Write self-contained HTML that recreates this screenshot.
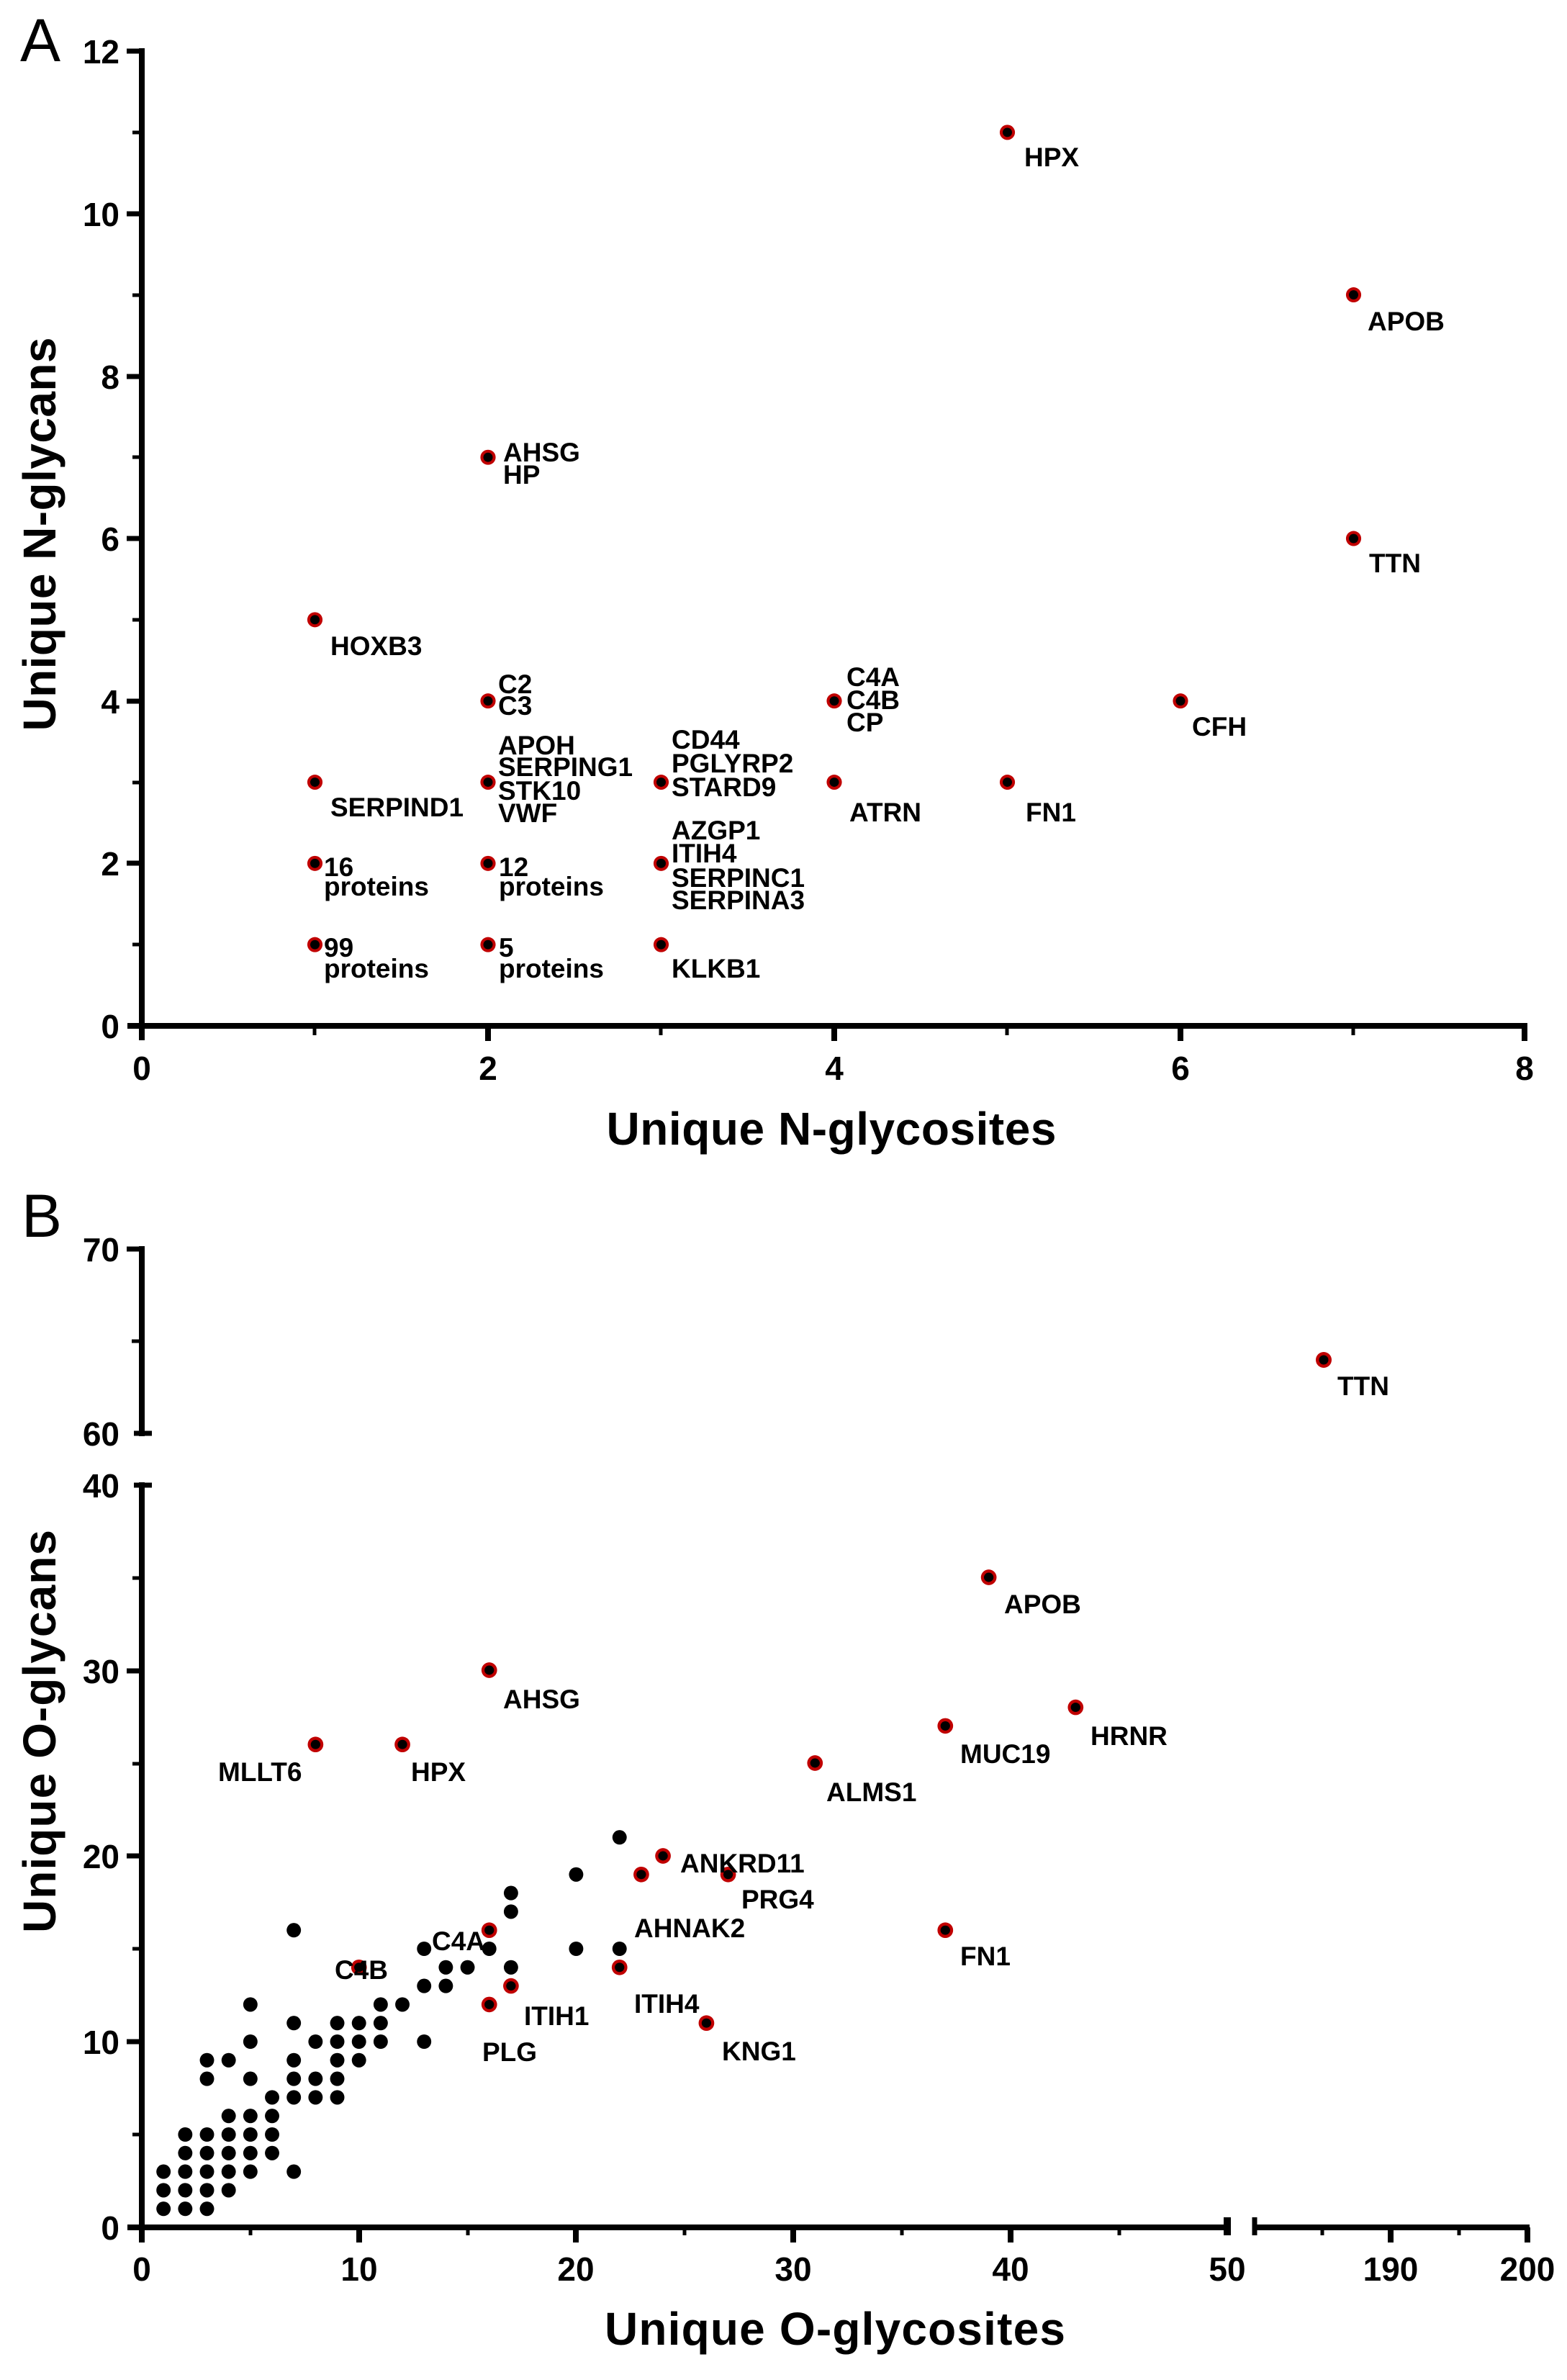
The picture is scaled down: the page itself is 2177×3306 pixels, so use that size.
<!DOCTYPE html>
<html><head><meta charset="utf-8"><style>
html,body{margin:0;padding:0;background:#fff;}
svg{display:block;}
text{font-family:"Liberation Sans",Arial,sans-serif;font-weight:bold;fill:#000;}
.t{font-size:46px;}
.l{font-size:37px;}
.ti{font-size:64px;}
</style></head><body>
<svg width="2177" height="3306" viewBox="0 0 2177 3306" xmlns="http://www.w3.org/2000/svg">
<!-- ===== Panel A ===== -->
<text x="28" y="85" style="font-size:84px;font-weight:normal">A</text>
<g stroke="#000" fill="none">
  <line x1="197" y1="67" x2="197" y2="1445" stroke-width="8"/>
  <line x1="177" y1="1425" x2="2122" y2="1425" stroke-width="8"/>
  <!-- y major -->
  <g stroke-width="7">
    <line x1="176" y1="71" x2="197" y2="71"/><line x1="176" y1="297" x2="197" y2="297"/>
    <line x1="176" y1="523" x2="197" y2="523"/><line x1="176" y1="748" x2="197" y2="748"/>
    <line x1="176" y1="974" x2="197" y2="974"/><line x1="176" y1="1199" x2="197" y2="1199"/>
  </g>
  <g stroke-width="5">
    <line x1="184" y1="184" x2="197" y2="184"/><line x1="184" y1="410" x2="197" y2="410"/>
    <line x1="184" y1="635" x2="197" y2="635"/><line x1="184" y1="861" x2="197" y2="861"/>
    <line x1="184" y1="1087" x2="197" y2="1087"/><line x1="184" y1="1312" x2="197" y2="1312"/>
  </g>
  <!-- x ticks -->
  <g stroke-width="8">
    <line x1="678" y1="1425" x2="678" y2="1446"/><line x1="1159" y1="1425" x2="1159" y2="1446"/>
    <line x1="1640" y1="1425" x2="1640" y2="1446"/><line x1="2118" y1="1425" x2="2118" y2="1446"/>
  </g>
  <g stroke-width="5">
    <line x1="437" y1="1425" x2="437" y2="1438"/><line x1="918" y1="1425" x2="918" y2="1438"/>
    <line x1="1399" y1="1425" x2="1399" y2="1438"/><line x1="1880" y1="1425" x2="1880" y2="1438"/>
  </g>
</g>
<g class="t" text-anchor="end">
  <text x="166" y="88">12</text><text x="166" y="314">10</text><text x="166" y="540">8</text>
  <text x="166" y="765">6</text><text x="166" y="991">4</text><text x="166" y="1216">2</text>
  <text x="166" y="1442">0</text>
</g>
<g class="t" text-anchor="middle">
  <text x="197" y="1500">0</text><text x="678" y="1500">2</text><text x="1159" y="1500">4</text>
  <text x="1640" y="1500">6</text><text x="2118" y="1500">8</text>
</g>
<text class="ti" x="1155" y="1590" text-anchor="middle" textLength="625">Unique N-glycosites</text>
<text class="ti" transform="translate(77,742) rotate(-90)" text-anchor="middle" textLength="547">Unique N-glycans</text>
<!-- A points -->
<g transform="translate(197,1425) scale(240.5,-112.83)">
  <g fill="#c00000">
    <ellipse cx="5" cy="11" rx="0.044" ry="0.093"/><ellipse cx="7" cy="9" rx="0.044" ry="0.093"/>
    <ellipse cx="2" cy="7" rx="0.044" ry="0.093"/><ellipse cx="7" cy="6" rx="0.044" ry="0.093"/>
    <ellipse cx="1" cy="5" rx="0.044" ry="0.093"/><ellipse cx="2" cy="4" rx="0.044" ry="0.093"/>
    <ellipse cx="4" cy="4" rx="0.044" ry="0.093"/><ellipse cx="6" cy="4" rx="0.044" ry="0.093"/>
    <ellipse cx="1" cy="3" rx="0.044" ry="0.093"/><ellipse cx="2" cy="3" rx="0.044" ry="0.093"/>
    <ellipse cx="3" cy="3" rx="0.044" ry="0.093"/><ellipse cx="4" cy="3" rx="0.044" ry="0.093"/>
    <ellipse cx="5" cy="3" rx="0.044" ry="0.093"/><ellipse cx="1" cy="2" rx="0.044" ry="0.093"/>
    <ellipse cx="2" cy="2" rx="0.044" ry="0.093"/><ellipse cx="3" cy="2" rx="0.044" ry="0.093"/>
    <ellipse cx="1" cy="1" rx="0.044" ry="0.093"/><ellipse cx="2" cy="1" rx="0.044" ry="0.093"/>
    <ellipse cx="3" cy="1" rx="0.044" ry="0.093"/>
  </g>
  <g fill="#000">
    <ellipse cx="5" cy="11" rx="0.027" ry="0.057"/><ellipse cx="7" cy="9" rx="0.027" ry="0.057"/>
    <ellipse cx="2" cy="7" rx="0.027" ry="0.057"/><ellipse cx="7" cy="6" rx="0.027" ry="0.057"/>
    <ellipse cx="1" cy="5" rx="0.027" ry="0.057"/><ellipse cx="2" cy="4" rx="0.027" ry="0.057"/>
    <ellipse cx="4" cy="4" rx="0.027" ry="0.057"/><ellipse cx="6" cy="4" rx="0.027" ry="0.057"/>
    <ellipse cx="1" cy="3" rx="0.027" ry="0.057"/><ellipse cx="2" cy="3" rx="0.027" ry="0.057"/>
    <ellipse cx="3" cy="3" rx="0.027" ry="0.057"/><ellipse cx="4" cy="3" rx="0.027" ry="0.057"/>
    <ellipse cx="5" cy="3" rx="0.027" ry="0.057"/><ellipse cx="1" cy="2" rx="0.027" ry="0.057"/>
    <ellipse cx="2" cy="2" rx="0.027" ry="0.057"/><ellipse cx="3" cy="2" rx="0.027" ry="0.057"/>
    <ellipse cx="1" cy="1" rx="0.027" ry="0.057"/><ellipse cx="2" cy="1" rx="0.027" ry="0.057"/>
    <ellipse cx="3" cy="1" rx="0.027" ry="0.057"/>
  </g>
</g>
<g class="l">
  <text x="1423" y="231">HPX</text>
  <text x="1900" y="459">APOB</text>
  <text x="699" y="641">AHSG</text><text x="699" y="672">HP</text>
  <text x="1902" y="795">TTN</text>
  <text x="459" y="910">HOXB3</text>
  <text x="692" y="963">C2</text><text x="692" y="993">C3</text>
  <text x="1176" y="953">C4A</text><text x="1176" y="985">C4B</text><text x="1176" y="1016">CP</text>
  <text x="1656" y="1022">CFH</text>
  <text x="692" y="1048">APOH</text><text x="692" y="1078">SERPING1</text><text x="692" y="1111">STK10</text><text x="692" y="1142">VWF</text>
  <text x="459" y="1134">SERPIND1</text>
  <text x="933" y="1040">CD44</text><text x="933" y="1073">PGLYRP2</text><text x="933" y="1106">STARD9</text>
  <text x="1180" y="1141">ATRN</text>
  <text x="1425" y="1141">FN1</text>
  <text x="933" y="1166">AZGP1</text><text x="933" y="1198">ITIH4</text><text x="933" y="1232">SERPINC1</text><text x="933" y="1263">SERPINA3</text>
  <text x="450" y="1217">16</text><text x="450" y="1244">proteins</text>
  <text x="693" y="1217">12</text><text x="693" y="1244">proteins</text>
  <text x="450" y="1329">99</text><text x="450" y="1358">proteins</text>
  <text x="693" y="1329">5</text><text x="693" y="1358">proteins</text>
  <text x="933" y="1358">KLKB1</text>
</g>

<!-- ===== Panel B ===== -->
<text x="30" y="1718" style="font-size:84px;font-weight:normal">B</text>
<g stroke="#000" fill="none">
  <line x1="197" y1="1731" x2="197" y2="1995" stroke-width="8"/>
  <line x1="176" y1="1735" x2="197" y2="1735" stroke-width="7"/>
  <line x1="186" y1="1991" x2="211" y2="1991" stroke-width="7"/>
  <line x1="183" y1="1863" x2="197" y2="1863" stroke-width="5"/>
  <line x1="197" y1="2059" x2="197" y2="3115" stroke-width="8"/>
  <line x1="186" y1="2063" x2="211" y2="2063" stroke-width="7"/>
  <line x1="177" y1="3094" x2="1706" y2="3094" stroke-width="8"/>
  <line x1="1743" y1="3094" x2="2125" y2="3094" stroke-width="8"/>
  <g stroke-width="7">
    <line x1="176" y1="2321" x2="197" y2="2321"/><line x1="176" y1="2578" x2="197" y2="2578"/>
    <line x1="176" y1="2836" x2="197" y2="2836"/>
  </g>
  <g stroke-width="5">
    <line x1="184" y1="2192" x2="197" y2="2192"/><line x1="184" y1="2450" x2="197" y2="2450"/>
    <line x1="184" y1="2707" x2="197" y2="2707"/><line x1="184" y1="2965" x2="197" y2="2965"/>
  </g>
  <g stroke-width="8">
    <line x1="499" y1="3094" x2="499" y2="3115"/><line x1="800" y1="3094" x2="800" y2="3115"/>
    <line x1="1102" y1="3094" x2="1102" y2="3115"/><line x1="1404" y1="3094" x2="1404" y2="3115"/>
    <line x1="1932" y1="3094" x2="1932" y2="3115"/><line x1="2122" y1="3094" x2="2122" y2="3115"/>
  </g>
  <line x1="1705" y1="3080" x2="1705" y2="3105" stroke-width="10"/>
  <line x1="1743" y1="3080" x2="1743" y2="3105" stroke-width="7"/>
  <g stroke-width="5">
    <line x1="348" y1="3094" x2="348" y2="3105"/><line x1="650" y1="3094" x2="650" y2="3105"/>
    <line x1="951" y1="3094" x2="951" y2="3105"/><line x1="1253" y1="3094" x2="1253" y2="3105"/>
    <line x1="1555" y1="3094" x2="1555" y2="3105"/><line x1="1837" y1="3094" x2="1837" y2="3105"/>
    <line x1="2027" y1="3094" x2="2027" y2="3105"/>
  </g>
</g>
<g class="t" text-anchor="end">
  <text x="166" y="1752">70</text><text x="166" y="2008">60</text><text x="166" y="2080">40</text>
  <text x="166" y="2338">30</text><text x="166" y="2595">20</text><text x="166" y="2853">10</text>
  <text x="166" y="3111">0</text>
</g>
<g class="t" text-anchor="middle">
  <text x="197" y="3168">0</text><text x="499" y="3168">10</text><text x="800" y="3168">20</text>
  <text x="1102" y="3168">30</text><text x="1404" y="3168">40</text><text x="1705" y="3168">50</text>
  <text x="1932" y="3168">190</text><text x="2122" y="3168">200</text>
</g>
<text class="ti" x="1160" y="3257" text-anchor="middle" textLength="640">Unique O-glycosites</text>
<text class="ti" transform="translate(77,2405) rotate(-90)" text-anchor="middle" textLength="560">Unique O-glycans</text>
<!-- B points -->
<g transform="translate(197,3094) scale(30.17,-25.8)">
  <g fill="#000">
    <ellipse cx="1" cy="1" rx="0.33" ry="0.39"/><ellipse cx="2" cy="1" rx="0.33" ry="0.39"/><ellipse cx="3" cy="1" rx="0.33" ry="0.39"/>
    <ellipse cx="1" cy="2" rx="0.33" ry="0.39"/><ellipse cx="2" cy="2" rx="0.33" ry="0.39"/><ellipse cx="3" cy="2" rx="0.33" ry="0.39"/><ellipse cx="4" cy="2" rx="0.33" ry="0.39"/>
    <ellipse cx="1" cy="3" rx="0.33" ry="0.39"/><ellipse cx="2" cy="3" rx="0.33" ry="0.39"/><ellipse cx="3" cy="3" rx="0.33" ry="0.39"/><ellipse cx="4" cy="3" rx="0.33" ry="0.39"/><ellipse cx="5" cy="3" rx="0.33" ry="0.39"/><ellipse cx="7" cy="3" rx="0.33" ry="0.39"/>
    <ellipse cx="2" cy="4" rx="0.33" ry="0.39"/><ellipse cx="3" cy="4" rx="0.33" ry="0.39"/><ellipse cx="4" cy="4" rx="0.33" ry="0.39"/><ellipse cx="5" cy="4" rx="0.33" ry="0.39"/><ellipse cx="6" cy="4" rx="0.33" ry="0.39"/>
    <ellipse cx="2" cy="5" rx="0.33" ry="0.39"/><ellipse cx="3" cy="5" rx="0.33" ry="0.39"/><ellipse cx="4" cy="5" rx="0.33" ry="0.39"/><ellipse cx="5" cy="5" rx="0.33" ry="0.39"/><ellipse cx="6" cy="5" rx="0.33" ry="0.39"/>
    <ellipse cx="4" cy="6" rx="0.33" ry="0.39"/><ellipse cx="5" cy="6" rx="0.33" ry="0.39"/><ellipse cx="6" cy="6" rx="0.33" ry="0.39"/>
    <ellipse cx="6" cy="7" rx="0.33" ry="0.39"/><ellipse cx="7" cy="7" rx="0.33" ry="0.39"/><ellipse cx="8" cy="7" rx="0.33" ry="0.39"/><ellipse cx="9" cy="7" rx="0.33" ry="0.39"/>
    <ellipse cx="3" cy="8" rx="0.33" ry="0.39"/><ellipse cx="5" cy="8" rx="0.33" ry="0.39"/><ellipse cx="7" cy="8" rx="0.33" ry="0.39"/><ellipse cx="8" cy="8" rx="0.33" ry="0.39"/><ellipse cx="9" cy="8" rx="0.33" ry="0.39"/>
    <ellipse cx="3" cy="9" rx="0.33" ry="0.39"/><ellipse cx="4" cy="9" rx="0.33" ry="0.39"/><ellipse cx="7" cy="9" rx="0.33" ry="0.39"/><ellipse cx="9" cy="9" rx="0.33" ry="0.39"/><ellipse cx="10" cy="9" rx="0.33" ry="0.39"/>
    <ellipse cx="5" cy="10" rx="0.33" ry="0.39"/><ellipse cx="8" cy="10" rx="0.33" ry="0.39"/><ellipse cx="9" cy="10" rx="0.33" ry="0.39"/><ellipse cx="10" cy="10" rx="0.33" ry="0.39"/><ellipse cx="11" cy="10" rx="0.33" ry="0.39"/><ellipse cx="13" cy="10" rx="0.33" ry="0.39"/>
    <ellipse cx="7" cy="11" rx="0.33" ry="0.39"/><ellipse cx="9" cy="11" rx="0.33" ry="0.39"/><ellipse cx="10" cy="11" rx="0.33" ry="0.39"/><ellipse cx="11" cy="11" rx="0.33" ry="0.39"/>
    <ellipse cx="5" cy="12" rx="0.33" ry="0.39"/><ellipse cx="11" cy="12" rx="0.33" ry="0.39"/><ellipse cx="12" cy="12" rx="0.33" ry="0.39"/>
    <ellipse cx="13" cy="13" rx="0.33" ry="0.39"/><ellipse cx="14" cy="13" rx="0.33" ry="0.39"/>
    <ellipse cx="14" cy="14" rx="0.33" ry="0.39"/><ellipse cx="15" cy="14" rx="0.33" ry="0.39"/><ellipse cx="17" cy="14" rx="0.33" ry="0.39"/>
    <ellipse cx="13" cy="15" rx="0.33" ry="0.39"/><ellipse cx="16" cy="15" rx="0.33" ry="0.39"/><ellipse cx="20" cy="15" rx="0.33" ry="0.39"/><ellipse cx="22" cy="15" rx="0.33" ry="0.39"/>
    <ellipse cx="7" cy="16" rx="0.33" ry="0.39"/><ellipse cx="17" cy="17" rx="0.33" ry="0.39"/><ellipse cx="17" cy="18" rx="0.33" ry="0.39"/>
    <ellipse cx="20" cy="19" rx="0.33" ry="0.39"/><ellipse cx="22" cy="21" rx="0.33" ry="0.39"/>
  </g>
  <g fill="#c00000">
    <ellipse cx="8" cy="26" rx="0.36" ry="0.42"/><ellipse cx="12" cy="26" rx="0.36" ry="0.42"/><ellipse cx="16" cy="30" rx="0.36" ry="0.42"/>
    <ellipse cx="39" cy="35" rx="0.36" ry="0.42"/><ellipse cx="43" cy="28" rx="0.36" ry="0.42"/><ellipse cx="37" cy="27" rx="0.36" ry="0.42"/>
    <ellipse cx="31" cy="25" rx="0.36" ry="0.42"/><ellipse cx="37" cy="16" rx="0.36" ry="0.42"/><ellipse cx="26" cy="11" rx="0.36" ry="0.42"/>
    <ellipse cx="16" cy="16" rx="0.36" ry="0.42"/><ellipse cx="10" cy="14" rx="0.36" ry="0.42"/><ellipse cx="16" cy="12" rx="0.36" ry="0.42"/>
    <ellipse cx="17" cy="13" rx="0.36" ry="0.42"/><ellipse cx="22" cy="14" rx="0.36" ry="0.42"/><ellipse cx="23" cy="19" rx="0.36" ry="0.42"/>
    <ellipse cx="24" cy="20" rx="0.36" ry="0.42"/><ellipse cx="27" cy="19" rx="0.36" ry="0.42"/>
  </g>
  <g fill="#000">
    <ellipse cx="8" cy="26" rx="0.22" ry="0.25"/><ellipse cx="12" cy="26" rx="0.22" ry="0.25"/><ellipse cx="16" cy="30" rx="0.22" ry="0.25"/>
    <ellipse cx="39" cy="35" rx="0.22" ry="0.25"/><ellipse cx="43" cy="28" rx="0.22" ry="0.25"/><ellipse cx="37" cy="27" rx="0.22" ry="0.25"/>
    <ellipse cx="31" cy="25" rx="0.22" ry="0.25"/><ellipse cx="37" cy="16" rx="0.22" ry="0.25"/><ellipse cx="26" cy="11" rx="0.22" ry="0.25"/>
    <ellipse cx="16" cy="16" rx="0.22" ry="0.25"/><ellipse cx="10" cy="14" rx="0.22" ry="0.25"/><ellipse cx="16" cy="12" rx="0.22" ry="0.25"/>
    <ellipse cx="17" cy="13" rx="0.22" ry="0.25"/><ellipse cx="22" cy="14" rx="0.22" ry="0.25"/><ellipse cx="23" cy="19" rx="0.22" ry="0.25"/>
    <ellipse cx="24" cy="20" rx="0.22" ry="0.25"/><ellipse cx="27" cy="19" rx="0.22" ry="0.25"/>
  </g>
</g>
<circle cx="1839" cy="1889" r="11" fill="#c00000"/><circle cx="1839" cy="1889" r="6.5" fill="#000"/>
<g class="l">
  <text x="1858" y="1938">TTN</text>
  <text x="1395" y="2241">APOB</text>
  <text x="699" y="2373">AHSG</text>
  <text x="303" y="2474">MLLT6</text>
  <text x="571" y="2474">HPX</text>
  <text x="1515" y="2424">HRNR</text>
  <text x="1334" y="2449">MUC19</text>
  <text x="1148" y="2502">ALMS1</text>
  <text x="945" y="2601">ANKRD11</text>
  <text x="1030" y="2651">PRG4</text>
  <text x="881" y="2691">AHNAK2</text>
  <text x="1334" y="2730">FN1</text>
  <text x="600" y="2709">C4A</text>
  <text x="465" y="2749">C4B</text>
  <text x="728" y="2813">ITIH1</text>
  <text x="881" y="2796">ITIH4</text>
  <text x="670" y="2863">PLG</text>
  <text x="1003" y="2862">KNG1</text>
</g>
</svg>
</body></html>
